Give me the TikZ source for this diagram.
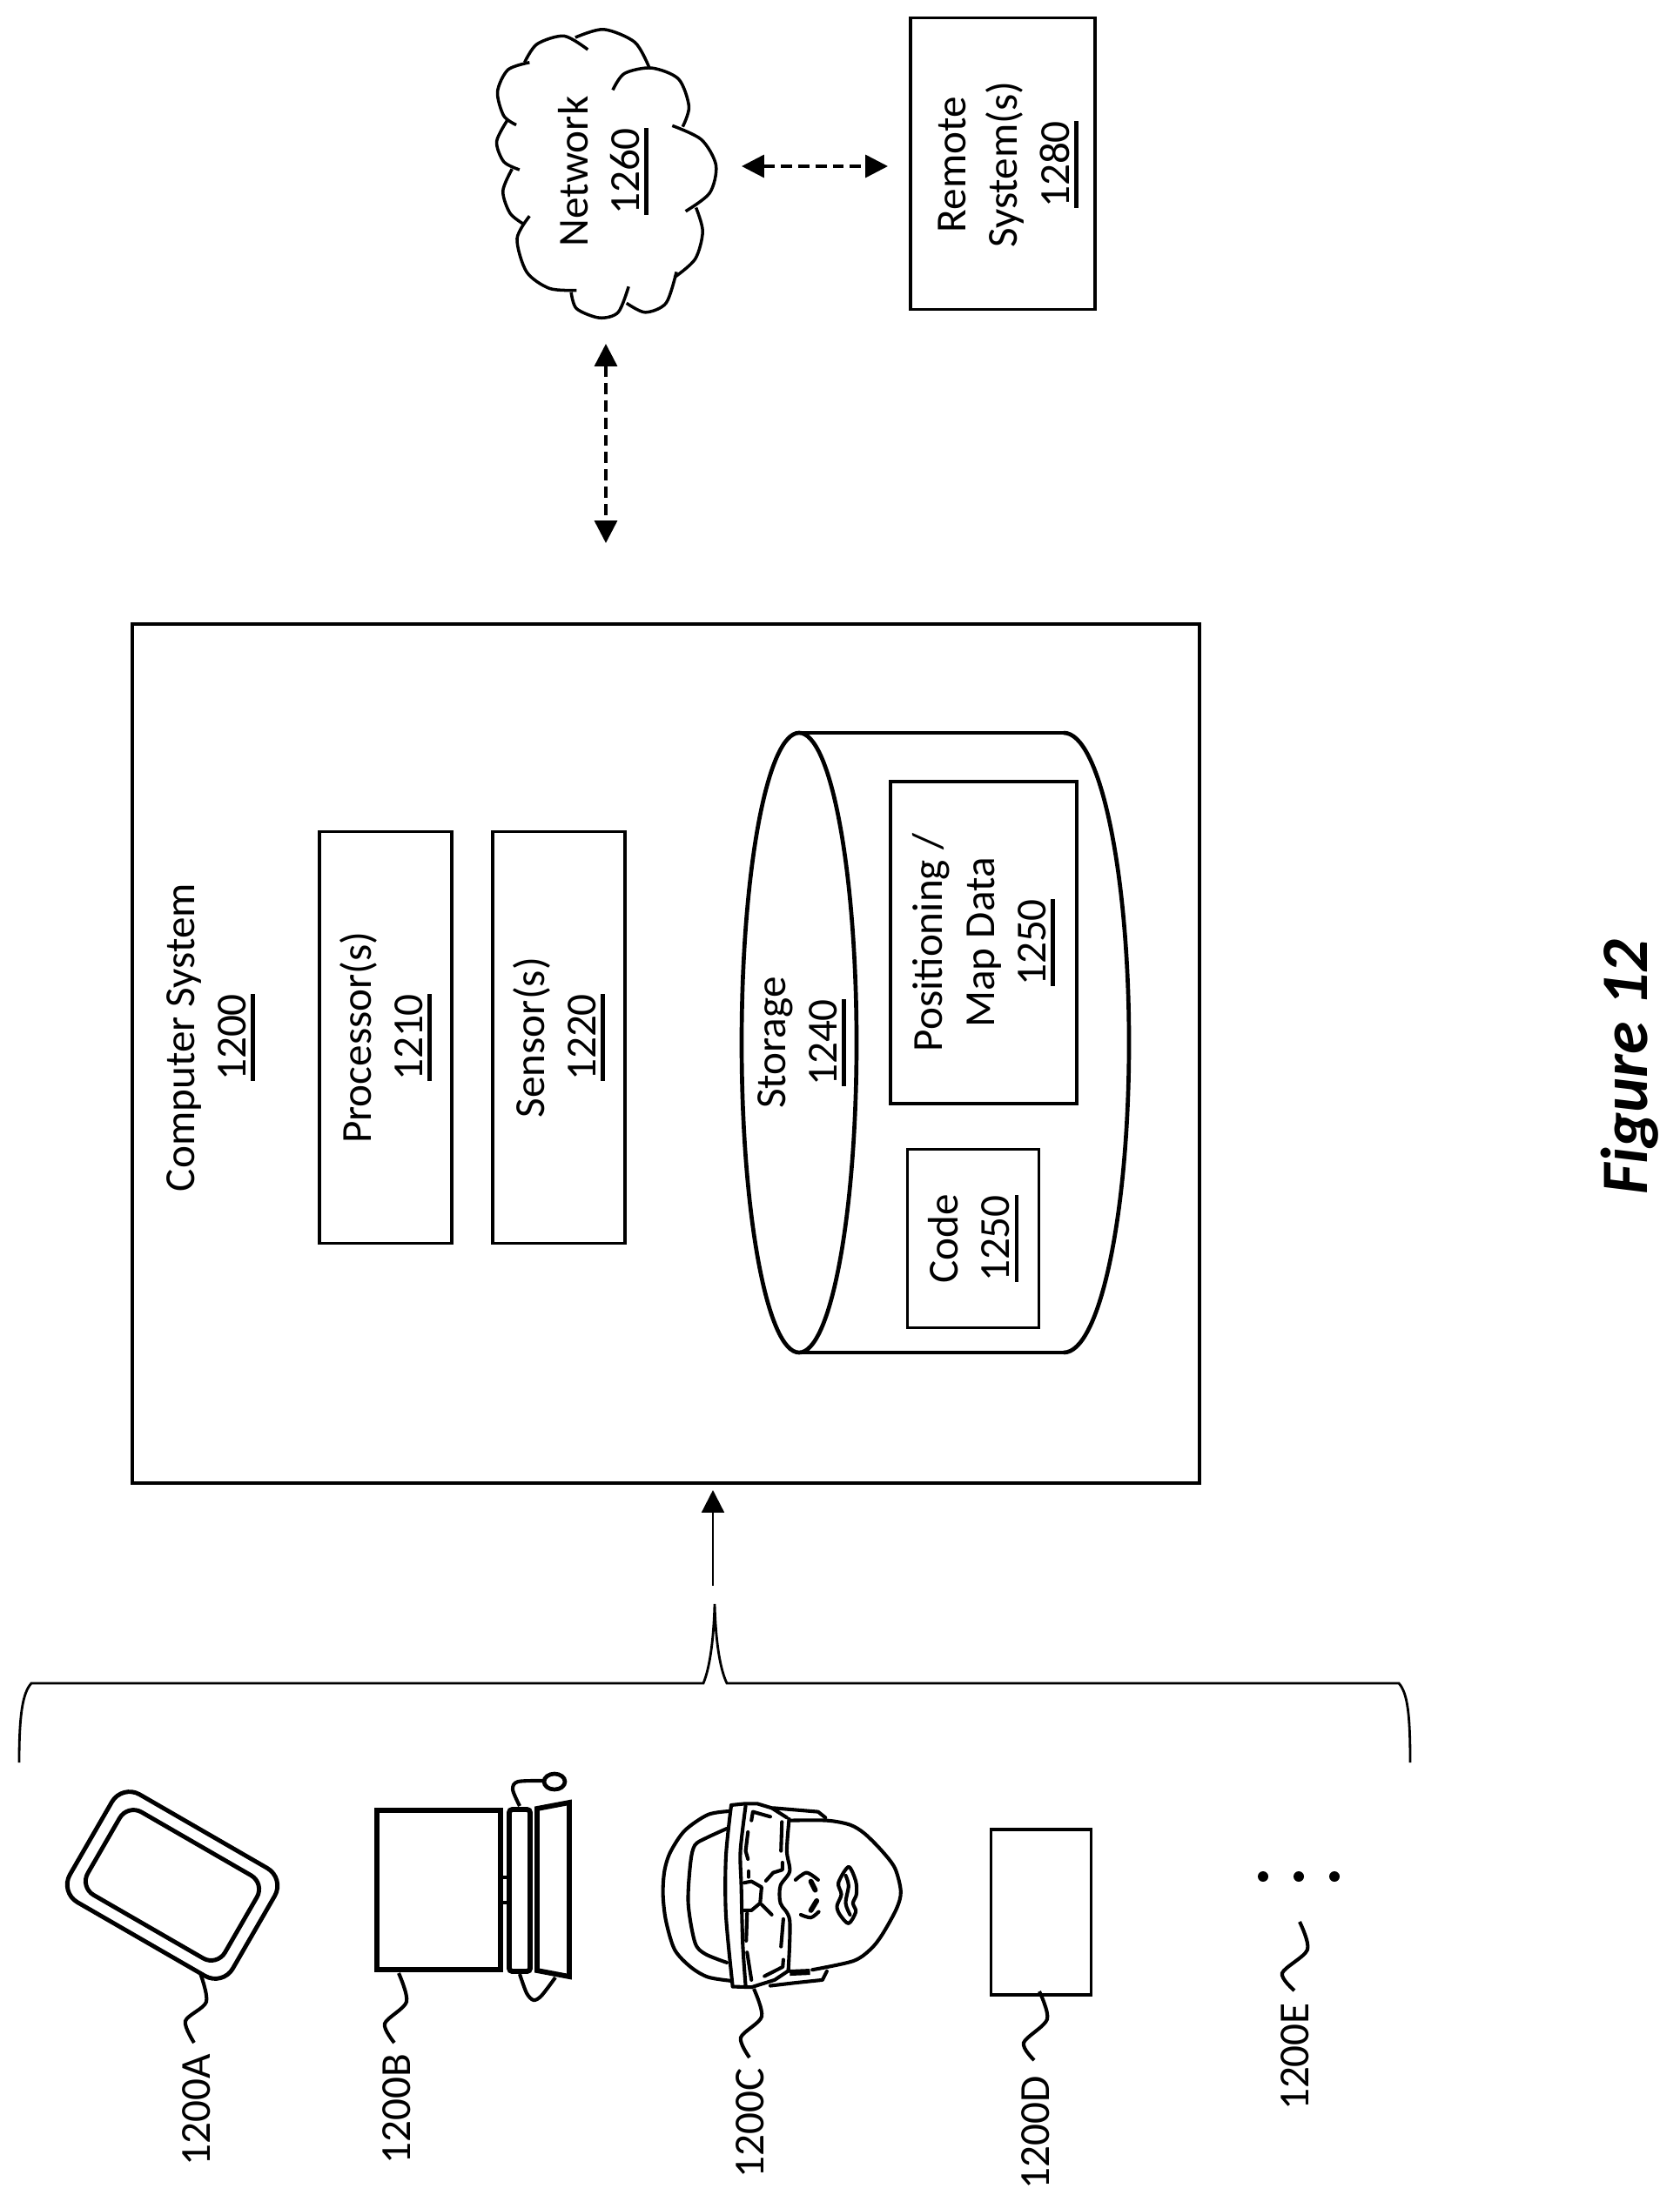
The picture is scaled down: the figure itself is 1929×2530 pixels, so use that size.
\documentclass[tikz,border=0pt]{standalone}
\usepackage{fontspec}
\setmainfont{Carlito}
\usetikzlibrary{arrows.meta}
\newcommand{\refnum}[1]{\leavevmode\setbox0=\hbox{#1}\rlap{\rule[-8.5pt]{\wd0}{3.8pt}}\box0}
\tikzset{
  >={Triangle[length=22pt,width=22pt]},
  every node/.style={font=\fontsize{42}{51}\selectfont,align=center,inner sep=0pt},
  txt/.style={rotate=90},
  box/.style={draw,line width=3pt,rotate=90},
  link/.style={<->,line width=3pt,dash pattern=on 11pt off 6pt},
  leader/.style={line width=3.5pt},
  brace/.style={line width=2.4pt},
  sketch/.style={line width=3.5pt,line join=round,line cap=round},
  lid/.style={line width=5pt,line join=miter},
  pad/.style={draw,line width=4.2pt,rotate=-30}
}
\begin{document}
\begin{tikzpicture}[x=0.03cm,y=-0.03cm]
  \useasboundingbox (0,0) rectangle (1929,2530);

  % Computer system and what it holds.
  \node[draw,line width=3.5pt,minimum width=36.78cm,minimum height=29.61cm] (comp) at (765,1210.5) {};
  \node[txt] (compt) at (242,1192) {Computer System\\\refnum{1200}};
  \node[box,minimum width=14.19cm,minimum height=4.56cm] (proc) at (443,1192) {Processor(s)\\\refnum{1210}};
  \node[box,minimum width=14.19cm,minimum height=4.56cm] (sens) at (642,1192) {Sensor(s)\\\refnum{1220}};

  % Storage cylinder.
  \draw[line width=3pt] (1222,842) -- (918,842);
  \draw[line width=3pt] (1222,1554) -- (918,1554);
  \draw[line width=4pt] (1222,842) arc (-90:90:75 and 356);
  \draw[line width=4pt,fill=white] (918,1198) ellipse (66 and 356);
  \node[txt] (stor) at (921,1198) {Storage\\\refnum{1240}};
  \node[box,minimum width=11.1cm,minimum height=6.42cm] (map) at (1130,1083) {Positioning /\\Map Data\\\refnum{1250}};
  \node[box,minimum width=6.15cm,minimum height=4.53cm] (code) at (1118,1423) {Code\\\refnum{1250}};

  % Network cloud.
  \begin{scope}[shift={(550,0)},x=0.01435cm,y=-0.01266cm,line width=3pt]
    \draw plot[smooth] coordinates {(232,102) (300,80) (375,115) (410,185)};
    \draw plot[smooth] coordinates {(262,135) (205,98) (140,120) (110,170)};
    \draw plot[smooth] coordinates {(122,170) (70,190) (45,250) (60,315) (90,340)};
    \draw plot[smooth] coordinates {(70,325) (43,385) (60,440) (98,462)};
    \draw plot[smooth] coordinates {(80,460) (58,520) (75,580) (108,610)};
    \draw plot[smooth] coordinates {(122,588) (92,650) (115,740) (170,785) (235,790)};
    \draw plot[smooth] coordinates {(222,795) (235,840) (290,865) (335,850) (360,780)};
    \draw plot[smooth] coordinates {(355,825) (400,850) (450,825) (475,740)};
    \draw plot[smooth] coordinates {(470,755) (520,705) (538,630) (522,565)};
    \draw plot[smooth] coordinates {(497,575) (555,525) (570,450) (535,380) (465,342)};
    \draw plot[smooth] coordinates {(490,345) (505,290) (480,215) (415,185) (350,200) (322,245)};
  \end{scope}
  \node[txt] (net) at (693,197) {Network\\\refnum{1260}};
  \node[box,minimum width=10.05cm,minimum height=6.36cm] (remote) at (1152,188) {};
  \node[txt] (remotet) at (1158,189) {Remote\\System(s)\\\refnum{1280}};

  % Dashed links.
  \coordinate (netE) at (852,191);
  \coordinate (remW) at (1020,191);
  \coordinate (netS) at (696,395);
  \coordinate (compN) at (696,624);
  \draw[link] (netE) -- (remW);
  \draw[link] (netS) -- (compN);

  % Brace and arrow up to the computer system.
  \coordinate (braceTip) at (819,1822);
  \coordinate (compS) at (819,1712);
  \draw[->,line width=2pt] (braceTip) -- (compS);
  \draw[brace] (22,2025) .. controls (22,1970) and (26,1945) .. (36,1934) -- (808,1934)
    .. controls (816,1915) and (820,1880) .. (821,1843)
    .. controls (822,1880) and (826,1915) .. (835,1934) -- (1607,1934)
    .. controls (1617,1945) and (1620,1970) .. (1620,2025);

  % Tablet 1200A.
  \node[pad,rounded corners=0.7cm,minimum width=6.48cm,minimum height=4.29cm] (tab) at (198,2166) {};
  \node[pad,rounded corners=0.55cm,minimum width=5.46cm,minimum height=3.3cm] (tabin) at (198,2166) {};
  \draw[leader] plot[smooth] coordinates {(230,2267) (237,2300) (213,2322) (223,2347)};
  \node[txt] (lbA) at (226,2424) {1200A};

  % Laptop 1200B.
  \draw[lid] (433,2080) rectangle (575,2263);
  \draw[lid,rounded corners=3pt] (585,2079) rectangle (609,2265);
  \draw[lid] (617,2078) -- (654,2071) -- (654,2271) -- (617,2264) -- cycle;
  \draw[line width=3pt] (578,2157) -- (582,2157) (578,2186) -- (582,2186);
  \draw[line width=4pt] (637,2047) ellipse (12 and 9);
  \draw[leader] plot[smooth] coordinates {(597,2075) (589,2056) (595,2047) (625,2046)};
  \draw[leader] plot[smooth] coordinates {(597,2268) (605,2290) (613,2298) (622,2293) (638,2272)};
  \draw[leader] plot[smooth] coordinates {(458,2267) (467,2300) (442,2325) (453,2347)};
  \node[txt] (lbB) at (456,2423) {1200B};

  % Head with glasses 1200C.
  \begin{scope}[shift={(700,2000)},x=0.01cm,y=-0.01cm]
    \draw[sketch] plot[smooth] coordinates {(415,243) (340,255) (260,310) (210,385) (190,450) (185,530) (195,620) (225,720) (280,780) (340,815) (420,828)};
    \draw[sketch] plot[smooth] coordinates {(405,303) (335,335) (295,360) (280,420) (272,560) (295,695) (330,735) (405,765)};
    \draw[sketch] (420,222) -- (470,217) -- (510,217) -- (560,232) -- (612,265);
    \draw[sketch] plot[smooth] coordinates {(420,225) (402,400) (402,600) (425,845)};
    \draw[sketch] plot[smooth] coordinates {(470,225) (452,380) (455,500) (460,700) (470,845)};
    \draw[sketch] (425,848) -- (490,850) -- (570,825) -- (615,795);
    \draw[sketch] plot[smooth] coordinates {(620,270) (612,380) (622,450) (590,500) (590,560) (622,620) (617,795)};
    \draw[sketch] plot[smooth] coordinates {(620,275) (750,275) (830,290) (880,320) (940,380) (985,440) (1005,520) (990,580) (940,670) (900,720) (840,760) (700,790)};
    \draw[line width=6pt] (622,800) -- (692,797);
    \draw[sketch] (565,232) -- (720,245) -- (745,265);
    \draw[sketch] (555,845) -- (640,835) -- (735,825) -- (750,795);
    % lens dashes
    \draw[sketch] (490,275) -- (495,245) -- (555,262);
    \draw[sketch] (478,315) -- (470,380) -- (478,408);
    \draw[sketch] (595,280) -- (592,380);
    \draw[sketch] (597,420) -- (597,445) -- (565,455) -- (540,483);
    \draw[sketch] (480,450) -- (480,470);
    \draw[sketch] (465,490) -- (490,485) -- (525,505) -- (520,560) -- (490,585) -- (465,585);
    \draw[sketch] (525,565) -- (560,600);
    \draw[sketch] (475,595) -- (472,690);
    \draw[sketch] (600,615) -- (592,710);
    \draw[sketch] (475,730) -- (490,825);
    \draw[sketch] (600,755) -- (598,780) -- (535,812);
    % eyes
    \draw[sketch] plot[smooth] coordinates {(642,480) (680,455) (720,480)};
    \draw[line width=5pt,line cap=round] (695,485) -- (710,515);
    \draw[sketch] plot[smooth] coordinates {(660,600) (695,610) (722,590)};
    \draw[line width=5pt,line cap=round] (715,552) -- (695,585);
    % mouth
    \draw[sketch] plot[smooth cycle] coordinates {(825,435) (850,485) (852,530) (840,560) (850,590) (825,630) (795,600) (785,570) (800,530) (790,490)};
    \draw[sketch] plot[smooth] coordinates {(815,465) (825,500) (815,560) (830,600)};
  \end{scope}
  \draw[leader] plot[smooth] coordinates {(866,2285) (875,2317) (851,2341) (861,2364)};
  \node[txt] (lbC) at (862,2439) {1200C};

  % Device 1200D.
  \node[draw,line width=3pt,minimum width=3.45cm,minimum height=5.7cm] (devD) at (1196,2197) {};
  \draw[leader] plot[smooth] coordinates {(1194,2288) (1203,2320) (1176,2347) (1188,2367)};
  \node[txt] (lbD) at (1190,2450) {1200D};

  % More devices 1200E.
  \foreach \dotx in {1451,1492,1533}
    \fill (\dotx,2156) circle (6);
  \draw[leader] plot[smooth] coordinates {(1493,2208) (1502,2240) (1473,2267) (1487,2287)};
  \node[txt] (lbE) at (1488,2363) {1200E};

  % Caption.
  \node[txt,font=\fontsize{65}{70}\selectfont\bfseries\itshape] (fig) at (1872,1226) {Figure 12};
\end{tikzpicture}
\end{document}
